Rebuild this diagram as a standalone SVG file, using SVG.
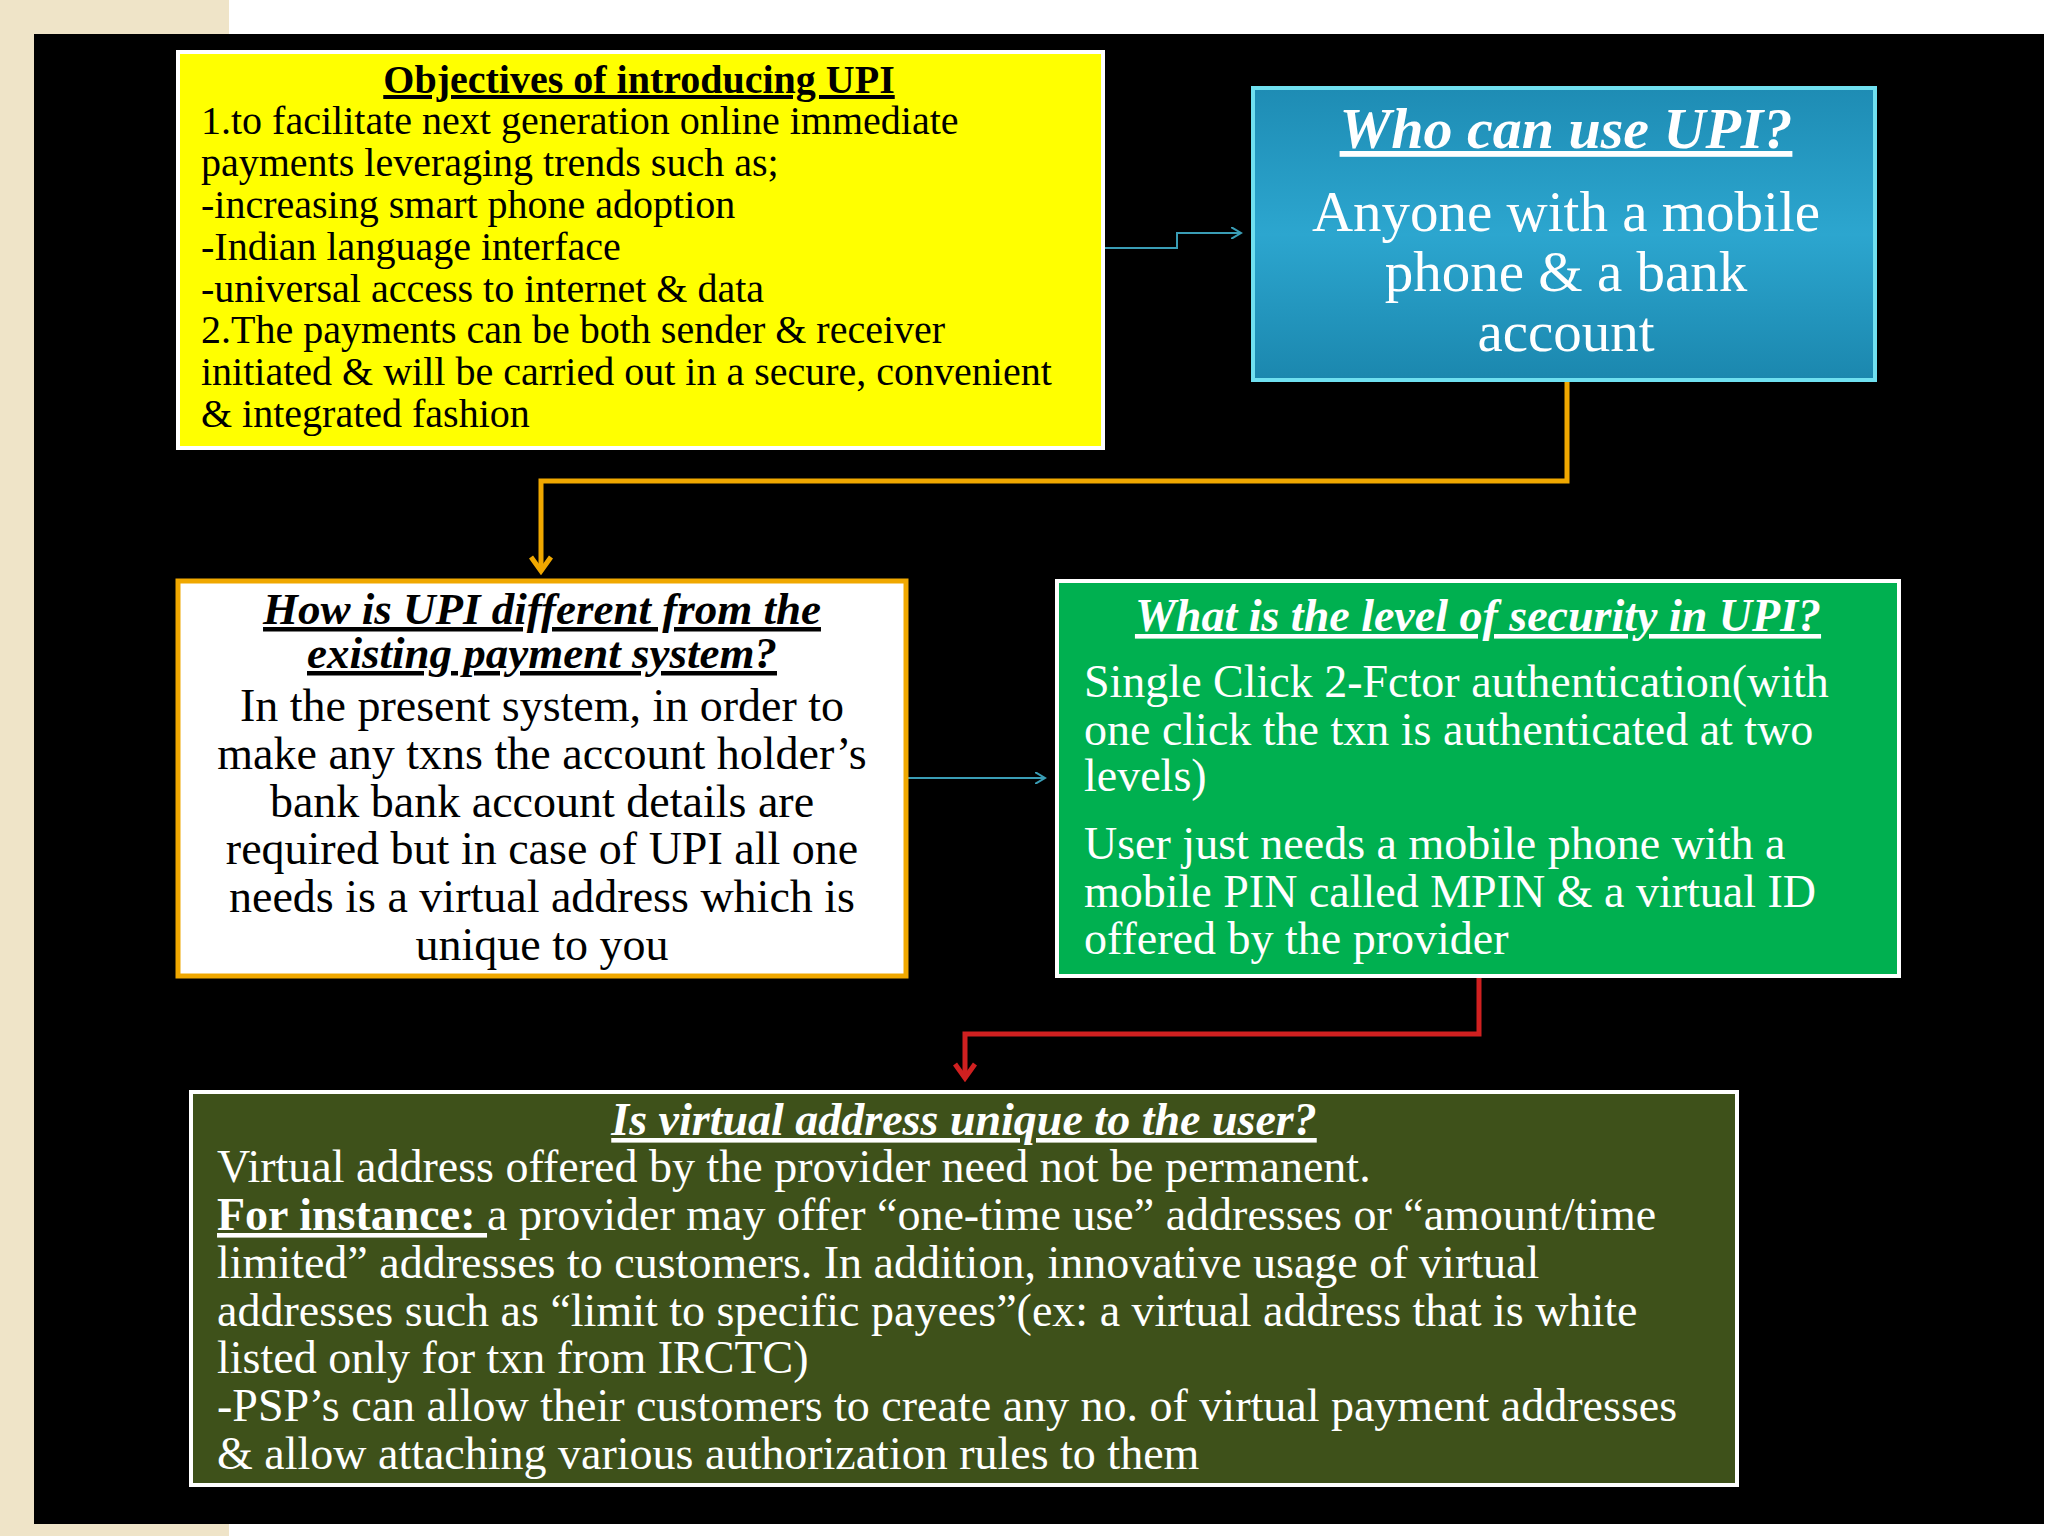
<svg xmlns="http://www.w3.org/2000/svg" width="2048" height="1536" viewBox="0 0 2048 1536">
<defs>
<style>
text{font-family:"Liberation Serif","Times New Roman",serif;}
.y{font-size:40px;fill:#000;}
.w{fill:#fff;}
.t{font-weight:bold;text-decoration:underline;}
.ti{font-weight:bold;font-style:italic;text-decoration:underline;}
</style>
<linearGradient id="bg" x1="0" y1="0" x2="0" y2="1"><stop offset="0" stop-color="#1E8CB4"/><stop offset="0.5" stop-color="#2CA6CF"/><stop offset="1" stop-color="#1B87AE"/></linearGradient>
<marker id="at" markerWidth="12" markerHeight="12" refX="10" refY="6" orient="auto" markerUnits="userSpaceOnUse"><path d="M0,0 L10,6 L0,12" fill="none" stroke="#3A9DB5" stroke-width="2"/></marker>
<marker id="ao" markerWidth="24" markerHeight="24" refX="12" refY="20" orient="0" markerUnits="userSpaceOnUse"><path d="M2,6 L12,20 L22,6" fill="none" stroke="#F0A800" stroke-width="5"/></marker>
<marker id="ar" markerWidth="24" markerHeight="24" refX="12" refY="20" orient="0" markerUnits="userSpaceOnUse"><path d="M2,6 L12,20 L22,6" fill="none" stroke="#D02020" stroke-width="5"/></marker>
</defs>
<rect width="2048" height="1536" fill="#fff"/>
<rect x="0" y="0" width="229" height="1536" fill="#EFE4C8"/>
<rect x="34" y="34" width="2010" height="1490" fill="#000"/>

<g id="connectors" fill="none">
<path d="M1103,248 H1177 V233 H1241" stroke="#3A9DB5" stroke-width="2" marker-end="url(#at)"/>
<path d="M1567,382 V481 H541 V571" stroke="#F0A800" stroke-width="5" marker-end="url(#ao)"/>
<path d="M908,778 H1045" stroke="#3A9DB5" stroke-width="2" marker-end="url(#at)"/>
<path d="M1479,978 V1034 H965 V1078" stroke="#D02020" stroke-width="5" marker-end="url(#ar)"/>
</g>

<g id="objectives">
<rect x="178" y="52" width="925" height="396" fill="#FFFF00" stroke="#fff" stroke-width="4"/>
<text class="y t" x="639" y="93" text-anchor="middle">Objectives of introducing UPI</text>
<text class="y" x="201" y="134">1.to facilitate next generation online immediate</text>
<text class="y" x="201" y="176">payments leveraging trends such as;</text>
<text class="y" x="201" y="218">-increasing smart phone adoption</text>
<text class="y" x="201" y="260">-Indian language interface</text>
<text class="y" x="201" y="302">-universal access to internet &amp; data</text>
<text class="y" x="201" y="343">2.The payments can be both sender &amp; receiver</text>
<text class="y" x="201" y="385">initiated &amp; will be carried out in a secure, convenient</text>
<text class="y" x="201" y="427">&amp; integrated fashion</text>
</g>

<g id="who">
<rect x="1253" y="88" width="622" height="292" fill="url(#bg)" stroke="#6FE0F0" stroke-width="4"/>
<text class="w ti" x="1566" y="148" font-size="58" text-anchor="middle">Who can use UPI?</text>
<text class="w" x="1566" y="231" font-size="57" text-anchor="middle">Anyone with a mobile</text>
<text class="w" x="1566" y="291" font-size="57" text-anchor="middle">phone &amp; a bank</text>
<text class="w" x="1566" y="351" font-size="57" text-anchor="middle">account</text>
</g>

<g id="different">
<rect x="178" y="581" width="728" height="395" fill="#fff" stroke="#F0A800" stroke-width="5"/>
<text class="ti" x="542" y="624" font-size="45" text-anchor="middle">How is UPI different from the</text>
<text class="ti" x="542" y="668" font-size="45" text-anchor="middle">existing payment system?</text>
<g font-size="46" text-anchor="middle">
<text x="542" y="721">In the present system, in order to</text>
<text x="542" y="769">make any txns the account holder’s</text>
<text x="542" y="817">bank bank account details are</text>
<text x="542" y="864">required but in case of UPI all one</text>
<text x="542" y="912">needs is a virtual address which is</text>
<text x="542" y="960">unique to you</text>
</g>
</g>

<g id="security">
<rect x="1057" y="581" width="842" height="395" fill="#00B050" stroke="#fff" stroke-width="4"/>
<text class="w ti" x="1478" y="631" font-size="46" text-anchor="middle">What is the level of security in UPI?</text>
<g class="w" font-size="46">
<text x="1084" y="697">Single Click 2-Fctor authentication(with</text>
<text x="1084" y="745">one click the txn is authenticated at two</text>
<text x="1084" y="791">levels)</text>
<text x="1084" y="859">User just needs a mobile phone with a</text>
<text x="1084" y="907">mobile PIN called MPIN &amp; a virtual ID</text>
<text x="1084" y="954">offered by the provider</text>
</g>
</g>

<g id="unique">
<rect x="191" y="1092" width="1546" height="393" fill="#3E511A" stroke="#fff" stroke-width="4"/>
<text class="w ti" x="964" y="1135" font-size="46" text-anchor="middle">Is virtual address unique to the user?</text>
<g class="w" font-size="46">
<text x="217" y="1182">Virtual address offered by the provider need not be permanent.</text>
<text x="217" y="1230"><tspan font-weight="bold" text-decoration="underline">For instance: </tspan>a provider may offer “one-time use” addresses or “amount/time</text>
<text x="217" y="1278">limited” addresses to customers. In addition, innovative usage of virtual</text>
<text x="217" y="1326">addresses such as “limit to specific payees”(ex: a virtual address that is white</text>
<text x="217" y="1373">listed only for txn from IRCTC)</text>
<text x="217" y="1421">-PSP’s can allow their customers to create any no. of virtual payment addresses</text>
<text x="217" y="1469">&amp; allow attaching various authorization rules to them</text>
</g>
</g>
</svg>
